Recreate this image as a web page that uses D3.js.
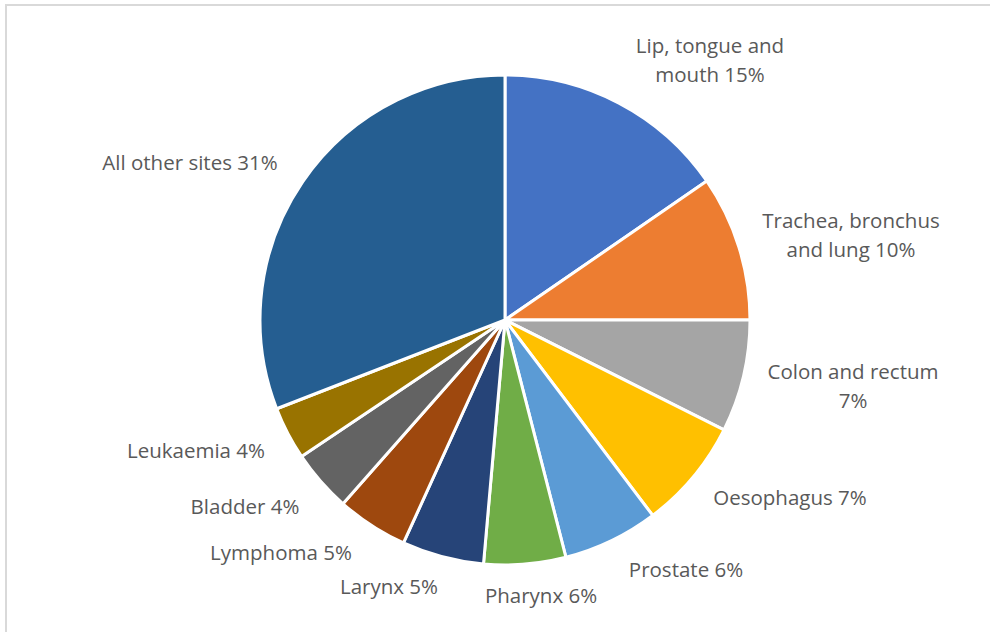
<!DOCTYPE html>
<html>
<head>
<meta charset="utf-8">
<script src="https://cdn.jsdelivr.net/npm/d3@7"></script>
<style>
  html, body { margin: 0; padding: 0; background: #fff; }
  svg text { font-family: "Open Sans", Lato, sans-serif; fill: #595959; }
</style>
</head>
<body>
<div id="chart"></div>
<script>
'use strict';

// data
const sites = ["Lip, tongue and mouth", "Trachea, bronchus and lung", "Colon and rectum", "Oesophagus",
    "Prostate", "Pharynx", "Larynx", "Lymphoma", "Bladder", "Leukaemia", "All other sites"];
const shares = [15.4, 9.6, 7.4, 7.3, 6.3, 5.4, 5.4, 4.7, 4.1, 3.5, 30.9];
const labelLines = [
    ["Lip, tongue and", "mouth 15%"],
    ["Trachea, bronchus", "and lung 10%"],
    ["Colon and rectum", "7%"],
    ["Oesophagus 7%"],
    ["Prostate 6%"],
    ["Pharynx 6%"],
    ["Larynx 5%"],
    ["Lymphoma 5%"],
    ["Bladder 4%"],
    ["Leukaemia 4%"],
    ["All other sites 31%"]
];

// layout
const colors = ["#4472c4", "#ed7d31", "#a5a5a5", "#ffc000", "#5b9bd5", "#70ad47",
    "#264478", "#9e480e", "#636363", "#997300", "#255e91"];
const labelPos = [[710, 46], [851, 221], [853, 372], [790, 498], [686, 570], [541, 596],
    [389, 587], [281, 553], [245, 507], [196, 451], [190, 163]];

let width = 990, height = 632;
let cx = 505, cy = 320, radius = 245;

let svg = d3.select("#chart").append("svg")
    .attr("width", width)
    .attr("height", height);

// chart frame
svg.append("rect")
    .attr("x", 6).attr("y", 5)
    .attr("width", width + 20).attr("height", height + 20)
    .attr("fill", "none")
    .attr("stroke", "#d9d9d9")
    .attr("stroke-width", 2);

let data = sites.map((s, i) => ({ name: s, value: shares[i], color: colors[i], lines: labelLines[i], pos: labelPos[i] }));

let pie = d3.pie().sort(null).value(d => d.value);
let arc = d3.arc().innerRadius(0).outerRadius(radius);

let g = svg.append("g").attr("transform", "translate(" + cx + "," + cy + ")");

g.selectAll(".slice")
    .data(pie(data))
    .enter().append("path")
    .attr("class", "slice")
    .attr("d", arc)
    .attr("fill", d => d.data.color)
    .attr("stroke", "#fff")
    .attr("stroke-width", 3)
    .attr("stroke-linejoin", "round");

let labels = svg.selectAll(".lbl")
    .data(data)
    .enter().append("text")
    .attr("class", "lbl")
    .attr("font-size", "20.5px")
    .attr("text-anchor", "middle");

labels.each(function (d) {
    let t = d3.select(this);
    d.lines.forEach((line, j) => {
        t.append("tspan")
            .attr("x", d.pos[0])
            .attr("y", d.pos[1] + j * 29)
            .attr("dy", "0.35em")
            .text(line);
    });
});
</script>
</body>
</html>
